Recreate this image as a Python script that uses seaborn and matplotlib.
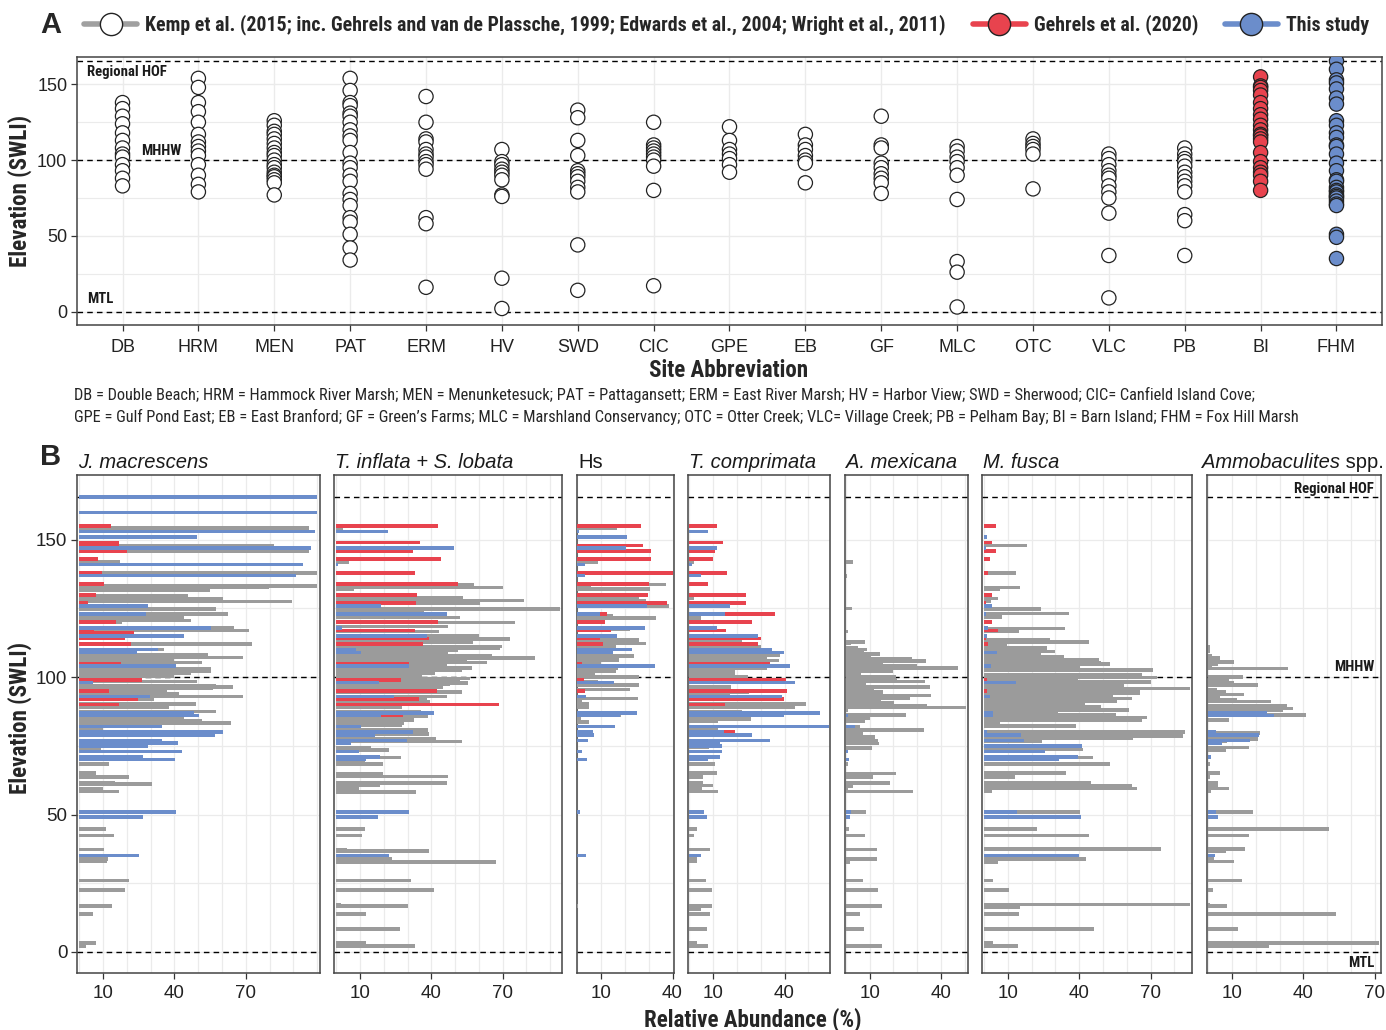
import numpy as np
import pandas as pd
import matplotlib
matplotlib.use("Agg")
import matplotlib.pyplot as plt
from matplotlib.lines import Line2D
from matplotlib.ticker import MultipleLocator, FixedLocator
from matplotlib import font_manager
import seaborn as sns

# ---------------- Panel A data (elevation, SWLI) ----------------
sites = ["DB", "HRM", "MEN", "PAT", "ERM", "HV", "SWD", "CIC", "GPE", "EB",
         "GF", "MLC", "OTC", "VLC", "PB", "BI", "FHM"]
elev_DB = [138, 134, 129, 124, 118, 113, 108, 104, 102, 97, 93, 88, 83]
elev_HRM = [154, 148, 138, 132, 125, 117, 112, 109, 106, 103, 97, 90, 84, 79]
elev_MEN = [126, 123, 119, 117, 114, 111, 108, 105, 103, 100, 97, 95, 92, 90, 89, 87, 85, 77]
elev_PAT = [154, 146, 138, 136, 131, 129, 125, 120, 116, 113, 105, 98, 95, 90, 86, 78, 74, 70,
            62, 59, 51, 42, 34]
elev_ERM = [142, 125, 114, 112, 107, 104, 102, 99, 97, 94, 62, 58, 16]
elev_HV = [107, 99, 97, 94, 92, 90, 87, 77, 76, 22, 2]
elev_SWD = [133, 128, 113, 103, 93, 91, 89, 86, 82, 79, 44, 14]
elev_CIC = [125, 110, 108, 106, 104, 102, 100, 96, 80, 17]
elev_GPE = [122, 113, 107, 104, 101, 97, 92]
elev_EB = [117, 110, 107, 103, 100, 98, 85]
elev_GF = [129, 110, 108, 98, 95, 91, 88, 85, 78]
elev_MLC = [109, 106, 102, 99, 95, 90, 74, 33, 26, 3]
elev_OTC = [114, 111, 109, 107, 104, 81]
elev_VLC = [104, 101, 97, 93, 90, 88, 83, 79, 75, 65, 37, 9]
elev_PB = [108, 104, 101, 99, 96, 92, 89, 86, 83, 79, 64, 60, 37]

# Gehrels et al. (2020) -> Barn Island samples; This study -> Fox Hill Marsh samples
red_elev = [155, 149, 148, 146, 143, 138, 134, 130, 127, 123, 120, 117, 116, 114, 112, 105,
            99, 95, 92, 90, 86, 80]
blue_elev = [165.5, 160, 153, 151, 147, 141, 137, 126, 123, 118, 115, 110, 109, 104, 98, 93,
             87, 86, 82, 80, 79, 77, 76, 75, 73, 71, 70, 51, 49, 35]

# ---------------- Panel B data (relative abundance, %) ----------------
taxa_titles = ["J. macrescens", "T. inflata + S. lobata", "Hs", "T. comprimata",
               "A. mexicana", "M. fusca", "Ammobaculites spp."]

jmac_red = [13.3, 16.5, 16.5, 19.9, 8.0, 9.5, 10.5, 7.2, 3.8, 9.6, 15.4, 6.0, 23.0, 19.2, 21.6,
            17.5, 26.4, 12.3, 24.6, 16.5, 0, 0]
tinf_red = [42.7, 35.2, 0, 32.2, 44.1, 33.1, 51.3, 34.1, 33.5, 36.2, 42.6, 33.1, 0, 39.0, 36.6,
            30.6, 27.1, 42.3, 35.0, 68.3, 28.2, 25.6]
hs_red = [26.9, 0, 27.7, 31.1, 31.1, 40.0, 30.3, 29.7, 37.6, 12.5, 11.4, 13.9, 0, 9.6, 10.8,
          2.0, 2.7, 3.0, 0, 0, 0, 0]
tcomp_red = [11.8, 14.2, 0, 10.9, 9.8, 15.7, 7.7, 23.8, 23.7, 35.8, 26.4, 15.4, 0, 30.2, 29.0,
             34.0, 40.7, 41.2, 39.7, 15.0, 30.9, 19.2]
amex_red = [0, 0, 0, 0, 0, 0, 0, 0, 0, 0, 0, 0, 0, 0, 0, 0, 0, 0, 0, 0, 0, 0]
mfus_red = [4.9, 3.2, 0, 4.9, 2.4, 1.8, 0, 3.1, 0.7, 0, 3.2, 6.0, 0, 0.7, 1.8, 0, 1.4, 1.0,
            0, 0, 0, 0]
ammo_red = [0, 0, 0, 0, 0, 0, 0, 0, 0, 0, 0, 0, 0, 0, 0, 0, 0, 0, 0, 0, 0, 0]

jmac_blue = [100, 100, 99, 49.6, 97.3, 94.2, 91, 28.8, 28, 55.5, 43.8, 33, 24.4, 40.8, 5.8, 29.8,
             48.2, 50.4, 34.9, 60.2, 57, 34.9, 41.5, 28.8, 43.2, 26.6, 40.1, 40.5, 26.7, 24.9]
tinf_blue = [0, 0, 21.6, 0, 49.4, 0.8, 0, 18.8, 46.7, 2.5, 38, 8.2, 10.3, 30.4, 18.1, 24.3,
             41.2, 18.8, 10.3, 32.2, 16.3, 29.7, 6.4, 0, 9.6, 18.4, 12.4, 30.4, 17.7, 22]
hs_blue = [0, 0, 0.8, 21, 20.6, 3, 3, 29.3, 9.4, 28.2, 16.8, 23, 15, 32.5, 15.4, 3.5, 25, 18,
           15.6, 6.5, 6.8, 4.6, 0, 0, 2, 0, 3.9, 1, 0, 3.8]
tcomp_blue = [0, 0, 7.7, 0, 11.6, 1.1, 4.9, 17, 15, 11.8, 29, 34.8, 39.6, 42.1, 44.2, 38.8,
              54.8, 39.6, 58.6, 14.7, 26.2, 33.7, 13, 13.9, 13.6, 12.9, 8, 6.2, 7.2, 4.8]
amex_blue = [0, 0, 0, 0, 0, 0, 0, 0, 0, 0, 0, 0, 0, 0, 0, 0, 0, 0.8, 3.7, 0, 0, 0, 0, 0, 0.9,
             0, 1.5, 2.0, 1.8, 0]
mfus_blue = [0, 0, 0, 1.0, 0.7, 0, 0, 3.1, 0.7, 1.8, 1.4, 0, 5.6, 2.8, 13.4, 2.5, 3.8, 3.9, 0,
             1.4, 15.4, 16.6, 0, 41, 25.4, 39.6, 31.3, 13.8, 40.6, 39.9]
ammo_blue = [0, 0, 0, 0, 0, 0, 0, 0, 0, 0, 0, 0, 0, 0, 0, 0, 24.8, 27.7, 0, 3.3, 21.2, 17.6, 5.7,
             0, 0, 1.1, 0, 3.3, 4.0, 2.9]

jmac_grey_elev = [154.4, 147.8, 145.8, 142, 138, 137.7, 133.2, 132.8, 131.8, 129.6, 128.6, 127.5,
                  124.9, 123, 122, 121.3, 120.7, 120, 117.8, 117, 115, 112, 110, 108.1, 107.1,
                  106, 105.3, 103, 102, 101.3, 100.5, 98.5, 97, 96.4, 95.8, 94.6, 94, 93, 92.1,
                  90.3, 88.9, 87.5, 85.1, 84.1, 83.4, 81, 79.2, 74.2, 68.4, 65.1, 63.6, 61.5,
                  61.2, 59.5, 58.4, 51, 44.7, 42.3, 37.3, 33.8, 32.9, 25.9, 22.5, 16.7, 13.8,
                  3.3, 2.2]
jmac_grey_pct = [96.7, 81.8, 96.5, 17, 100, 63, 100, 79.7, 55, 45.8, 60.6, 89.4, 57.3, 62.7, 43.8,
                 20.6, 46.9, 17.8, 65, 71.2, 40, 72.5, 35.4, 54.2, 69, 39.7, 51.6, 55.5, 55.5,
                 46.8, 40, 49.6, 57.3, 64.4, 56, 36.9, 42.1, 68.9, 31.4, 48.9, 37.9, 57.3, 43.8,
                 51.4, 63.7, 10, 57, 9, 12.4, 6.8, 21, 15, 30.6, 10, 16.5, 12, 11.2, 14.4, 10.2,
                 12, 11.6, 20.8, 19.2, 13.7, 5.9, 6.9, 2.7]

tinf_grey_elev = [154.2, 142, 137.9, 133.8, 132.7, 132, 128.9, 127.9, 127, 125.9, 124.9, 124.2,
                  123, 121.8, 119.9, 118.4, 116.6, 115.2, 113.8, 112.9, 111.1, 110.5, 109.7,
                  108.6, 107.7, 107, 106, 105.3, 104.2, 103.4, 102.5, 101.5, 100.5, 99.9, 99.5,
                  98.5, 97.8, 97.4, 96.4, 94.7, 93, 92.3, 91, 90.3, 88.9, 87.5, 85.8, 84.5, 83.4,
                  82.5, 80.7, 79.3, 77.5, 76.6, 74.4, 73.4, 70.7, 69.7, 68.4, 64.9, 63.8, 61.5,
                  60.5, 59.5, 58.1, 51, 44.7, 42.3, 37.3, 36.8, 33.7, 32.7, 25.9, 22.5, 17.3,
                  16.7, 13.8, 8.4, 3.3, 2.2]
tinf_grey_pct = [3, 5.5, 19.4, 58, 70.3, 7.3, 53.4, 79, 60.3, 12.8, 94, 37, 44, 52, 75.3, 47, 43,
                 60, 73, 57.3, 69.5, 69, 51, 47, 65.5, 83.5, 55, 63.5, 46.6, 57, 53, 41.5, 36, 20,
                 56.3, 52, 55.2, 48, 45, 53, 46.4, 38, 39.5, 32, 27.5, 35.5, 38.5, 32.5, 28.5,
                 27.8, 38.7, 38.8, 41.8, 52.7, 14.5, 22.3, 27.2, 12, 19.6, 19.6, 46.8, 46.4,
                 18.5, 9.6, 33.4, 15, 12, 11, 4.7, 39.2, 23.5, 67, 31.5, 41.2, 1.8, 30, 12.6,
                 26.9, 12.6, 33]

hs_grey_elev = [154.2, 142, 137.9, 133.8, 132.7, 132, 128.9, 127.9, 125.9, 122.3, 121.5, 120.4,
                117.3, 113.6, 112.2, 111.1, 107.7, 106.3, 105.3, 103.3, 102.3, 101.2, 100.1,
                98.5, 97.1, 95.5, 92.3, 91.6, 90.3, 88.9, 86.2, 84.8, 83.7, 16.7]
hs_grey_pct = [16.5, 8.6, 3, 37.2, 5.8, 30.7, 25.8, 29, 38.6, 15, 33.2, 4.6, 22.3, 26, 29, 16.3,
               23.8, 17.3, 10, 17, 16.3, 7.2, 25.8, 8.6, 26, 22, 25.5, 1.8, 5, 4.8, 18.2, 1.5,
               5, 0.4]

tcomp_grey_elev = [142, 128.9, 125.9, 121.5, 117, 113, 111, 109.2, 108.1, 107, 106, 104.2, 103.4,
                   102.3, 101.2, 100.1, 98.5, 96.4, 94.7, 93.5, 92, 90.3, 88.9, 87.5, 86.5, 84.8,
                   84, 82, 81.3, 79.5, 76.9, 74.4, 70, 68.4, 65.1, 63.6, 61.5, 60.5, 59.5, 58.4,
                   44.7, 42.3, 37.3, 33.8, 32.9, 25.9, 22.5, 16.7, 15.5, 13.8, 8.4, 3.3, 2.2]
tcomp_grey_pct = [2.1, 2.1, 6.6, 4.9, 14, 22, 30, 33.2, 37.9, 32.5, 37.6, 34, 32.8, 19.2, 19.2,
                  24.5, 20, 17.3, 25.2, 17, 22, 49.2, 44.6, 22, 17, 26, 11.9, 42.4, 11.9, 18,
                  25.2, 8.3, 7.7, 10.8, 11.6, 5.9, 5.6, 9.8, 5.5, 12.2, 3, 2, 8.7, 3, 3, 7, 9.5,
                  9.3, 4.8, 8.8, 7.4, 3, 8]

amex_grey_elev = [142, 136.8, 125, 116.6, 112.9, 112.2, 110.8, 110, 109.2, 108.4, 107.4, 106.7,
                  105.9, 104.7, 104, 103.3, 102.3, 101, 100.1, 99.2, 98.5, 97.4, 96.4, 95.5,
                  94.7, 93.3, 92.3, 91.6, 90.5, 89.6, 88.9, 87.8, 86.2, 85.1, 84.1, 82.1, 80.7,
                  79.3, 78.2, 77, 75.9, 74.2, 68.4, 64.9, 63.6, 61.5, 60.4, 59.5, 58.4, 51, 44.7,
                  42.3, 37.3, 33.8, 32.7, 25.9, 22.5, 16.7, 13.8, 8.4, 2.2]
amex_grey_pct = [3, 0.5, 2.7, 0.9, 7.9, 2, 5.1, 8.9, 7.5, 14.4, 10.7, 27.7, 33.7, 15.6, 29.8, 47.3,
                 20, 6.5, 21.1, 21.4, 33.3, 8.6, 35.4, 12, 15.5, 36, 27, 14.9, 20.4, 34, 50.7, 1,
                 25.3, 10.3, 7.9, 5.8, 33, 7.2, 12.3, 13.5, 13.9, 11.1, 0.9, 21.1, 11.6, 18.6, 3,
                 0.9, 28.1, 8.6, 1.3, 7.9, 13.2, 13.2, 1.9, 7.2, 13.5, 15.3, 6, 7.5, 15.3]

mfus_grey_elev = [148, 137.9, 132.7, 132, 128.6, 127.7, 124.9, 123.2, 122, 117.7, 116.8, 113.6,
                  112.7, 111.9, 110.7, 109.3, 108.5, 107.4, 106.4, 105.3, 104.7, 103.4, 102.6,
                  101, 99.9, 99, 98.2, 97.1, 95.8, 94.8, 94, 93, 92.3, 91.4, 90.3, 89.3, 88.1,
                  87.3, 86.3, 85.3, 84.5, 83.4, 82.3, 80, 78.6, 77.9, 76.6, 74.2, 73.6, 70.7,
                  68.4, 65.1, 63.6, 61.5, 60.5, 59.5, 58.4, 51, 44.7, 42.3, 37.5, 33.8, 32.7,
                  25.9, 22.5, 17.3, 16.3, 13.8, 8.4, 3.3, 2.2]
mfus_grey_pct = [18, 13.4, 15.2, 6.6, 6, 2.8, 24, 35.6, 7.5, 34.1, 14.8, 27.7, 44.1, 9.4, 26.3,
                 29.9, 24, 33.4, 48.5, 49, 53.1, 40.1, 71.1, 66.2, 72.5, 39.4, 70, 58.9, 86.6,
                 65.5, 65.5, 54.2, 62.1, 56, 42.3, 49, 61.1, 31, 55.6, 68.3, 66.2, 6.6, 38.7,
                 84.5, 83.5, 62.7, 24.2, 37.3, 41.5, 45.8, 52.8, 34.5, 13.1, 44.8, 62, 64.4,
                 3.5, 40.4, 22.1, 43.9, 74.2, 43, 5.8, 3.9, 10.6, 86.6, 15.2, 14.5, 46.2, 3.8,
                 14.1]

ammo_grey_elev = [111, 109.5, 107.8, 107, 105.6, 104.7, 103.7, 103.2, 100.1, 98.9, 98.1, 97.1,
                  95.5, 94.7, 93.7, 92.7, 91.9, 91.2, 89.6, 88.6, 87.8, 86.2, 84.5, 80, 79.6,
                  78.9, 77.5, 76.6, 74.4, 73.4, 68.4, 65.1, 63.6, 61.5, 60.4, 59.5, 58.4, 51,
                  44.7, 42.3, 37.5, 36.8, 33.8, 32.9, 25.9, 22.5, 17.3, 16.7, 13.8, 8.4, 3.3, 2.2]
ammo_grey_pct = [0.7, 0.7, 1.6, 4.7, 10.9, 4, 1.6, 33.7, 14.5, 8.8, 11, 21, 3.7, 7.6, 14.8, 4.7,
                 11.9, 26.5, 32.9, 35.7, 31.3, 41, 8.8, 1.9, 21.7, 5, 21, 7.9, 16.9, 7.6, 0.7, 5,
                 0.7, 4, 4, 8.5, 1.1, 18.8, 50.6, 17.2, 15.5, 7.3, 2.2, 10.9, 14.2, 1.9, 0.7, 7.9,
                 53.5, 12.3, 71.9, 25.5]

# reference levels
level_names = ["MTL", "MHHW", "Regional HOF"]
level_values = [0, 100, 165.5]

legend_labels = ["Kemp et al. (2015; inc. Gehrels and van de Plassche, 1999; Edwards et al., 2004; Wright et al., 2011)",
                 "Gehrels et al. (2020)", "This study"]
caption1 = ("DB = Double Beach; HRM = Hammock River Marsh; MEN = Menunketesuck; PAT = Pattagansett; "
            "ERM = East River Marsh; HV = Harbor View; SWD = Sherwood; CIC= Canfield Island Cove;")
caption2 = ("GPE = Gulf Pond East; EB = East Branford; GF = Green\u2019s Farms; MLC = Marshland Conservancy; "
            "OTC = Otter Creek; VLC= Village Creek; PB = Pelham Bay; BI = Barn Island; FHM = Fox Hill Marsh")

# ---------------- styling ----------------
GREY_PT = "white"
RED = "#E8434E"
BLUE = "#6B8DCB"
GREY_BAR = "#9B9B9B"
GREY_LINE = "#A0A0A0"
GRID = "#EBEBEB"
SPINE = "#444444"

sns.set_theme(style="white")
avail = {f.name for f in font_manager.fontManager.ttflist}
narrow_candidates = [n for n in ["Liberation Sans Narrow", "DejaVu Sans Condensed",
                                 "Roboto Condensed", "Open Sans Condensed"] if n in avail]
NARROW = narrow_candidates[0] if narrow_candidates else "Liberation Sans"
plt.rcParams["font.family"] = ["Liberation Sans", "DejaVu Sans"]
plt.rcParams["axes.unicode_minus"] = False

W, H = 1386, 1030
fig = plt.figure(figsize=(W / 100, H / 100), dpi=100)
renderer = fig.canvas.get_renderer()


def fit_size(s, target_px, **kw):
    """font size (pt) for which string s spans target_px pixels"""
    t = fig.text(0, 0, s, fontsize=10, **kw)
    bb = t.get_window_extent(renderer=renderer)
    t.remove()
    return 10.0 * target_px / bb.width


def style_axes(ax):
    for s in ax.spines.values():
        s.set_color(SPINE)
        s.set_linewidth(1.1)
        s.set_visible(True)
    ax.set_axisbelow(True)


nb = dict(fontfamily=NARROW, fontweight="bold")
nr = dict(fontfamily=NARROW)
fs_level = fit_size("Regional HOF", 80, **nb)
fs_axis = fit_size("Site Abbreviation", 160, **nb)
fs_cap1 = fit_size(caption1, 1184, **nr)
fs_cap2 = fit_size(caption2, 1231, **nr)
fs_cap = min(fs_cap1, fs_cap2)
fs_leg = fit_size(legend_labels[1], 163, **nb)

# ================= Panel A =================
axA = fig.add_axes([77 / W, 1 - 325 / H, 1305 / W, 268 / H])
kemp_lists = [elev_DB, elev_HRM, elev_MEN, elev_PAT, elev_ERM, elev_HV, elev_SWD, elev_CIC,
              elev_GPE, elev_EB, elev_GF, elev_MLC, elev_OTC, elev_VLC, elev_PB]
rows = []
for s, vals in zip(sites[:15], kemp_lists):
    for v in vals:
        rows.append((s, v, "Kemp"))
for v in red_elev:
    rows.append(("BI", v, "Gehrels"))
for v in blue_elev:
    rows.append(("FHM", v, "This"))
dfA = pd.DataFrame(rows, columns=["site", "elev", "source"])

for lv in level_values:
    axA.axhline(lv, color="black", lw=1.0, ls=(0, (4, 3)), zorder=2)
sns.scatterplot(data=dfA, x="site", y="elev", hue="source",
                palette={"Kemp": GREY_PT, "Gehrels": RED, "This": BLUE},
                s=105, edgecolor="#222222", linewidth=0.9, legend=False, ax=axA, zorder=4)
axA.set_xlim(-0.6, 16.6)
axA.set_ylim(-8.9, 168.1)
axA.yaxis.set_major_locator(FixedLocator([0, 50, 100, 150]))
axA.yaxis.set_minor_locator(FixedLocator([25, 75, 125]))
axA.grid(which="major", color=GRID, lw=1.0)
axA.grid(which="minor", axis="y", color=GRID, lw=0.8)
axA.tick_params(axis="both", which="major", direction="out", length=4, width=0.9,
                color="#333333", labelsize=13, pad=3, labelcolor="#222222",
                bottom=True, left=True)
axA.tick_params(axis="x", pad=6)
axA.tick_params(which="minor", length=0)
axA.set_xlabel("")
axA.set_ylabel("")
style_axes(axA)
txt_kw = dict(fontsize=fs_level, color="#1a1a1a", **nb)
axA.text(-0.47, 158, level_names[2], va="center", ha="left", **txt_kw)
axA.text(0.25, 106, level_names[1], va="center", ha="left", **txt_kw)
axA.text(-0.47, 8, level_names[0], va="center", ha="left", **txt_kw)

fig.text(20 / W, 1 - 191 / H, "Elevation (SWLI)", rotation=90, ha="center", va="center",
         fontsize=fs_axis, **nb)
fig.text(729 / W, 1 - 370 / H, "Site Abbreviation", ha="center", va="center",
         fontsize=fs_axis, **nb)
fig.text(74 / W, 1 - 395 / H, caption1, ha="left", va="center", fontsize=fs_cap, **nr)
fig.text(74 / W, 1 - 417 / H, caption2, ha="left", va="center", fontsize=fs_cap, **nr)
fig.text(51 / W, 1 - 25 / H, "A", ha="center", va="center", fontweight="bold", fontsize=21)
fig.text(51 / W, 1 - 457 / H, "B", ha="center", va="center", fontweight="bold", fontsize=21)

handles = [
    Line2D([0], [0], color=GREY_LINE, lw=4, marker="o", markersize=16,
           markerfacecolor="white", markeredgecolor="#222222", markeredgewidth=1.0),
    Line2D([0], [0], color=RED, lw=4, marker="o", markersize=16,
           markerfacecolor=RED, markeredgecolor="#222222", markeredgewidth=1.0),
    Line2D([0], [0], color=BLUE, lw=4, marker="o", markersize=16,
           markerfacecolor=BLUE, markeredgecolor="#222222", markeredgewidth=1.0),
]
em_px = fs_leg * 100 / 72
fig.legend(handles, legend_labels, loc="center left", bbox_to_anchor=(84 / W, 1 - 25 / H),
           ncol=3, frameon=False, handlelength=53 / em_px, handletextpad=8 / em_px,
           columnspacing=27 / em_px, borderaxespad=0, borderpad=0,
           prop={"family": NARROW, "weight": "bold", "size": fs_leg})

# ================= Panel B =================
red_sets = [jmac_red, tinf_red, hs_red, tcomp_red, amex_red, mfus_red, ammo_red]
blue_sets = [jmac_blue, tinf_blue, hs_blue, tcomp_blue, amex_blue, mfus_blue, ammo_blue]
grey_elev_sets = [jmac_grey_elev, tinf_grey_elev, hs_grey_elev, tcomp_grey_elev,
                  amex_grey_elev, mfus_grey_elev, ammo_grey_elev]
grey_pct_sets = [jmac_grey_pct, tinf_grey_pct, hs_grey_pct, tcomp_grey_pct,
                 amex_grey_pct, mfus_grey_pct, ammo_grey_pct]

maxes = [max(max(g), max(r), max(b)) for g, r, b in zip(grey_pct_sets, red_sets, blue_sets)]
spans = [1.02 * m for m in maxes]
left_px, right_px, gap_px = 77, 1381, 14.5
scale = (right_px - left_px - gap_px * 6) / sum(spans)
x_px = left_px
bar_h = 1.3
axes_B = []
for k in range(7):
    w_px = spans[k] * scale
    ax = fig.add_axes([x_px / W, 1 - 973 / H, w_px / W, 498 / H])
    x_px += w_px + gap_px
    axes_B.append(ax)
    for lv in level_values:
        ax.axhline(lv, color="black", lw=1.0, ls=(0, (4, 3)), zorder=2)
    ge = np.array(grey_elev_sets[k]); gp = np.array(grey_pct_sets[k])
    re = np.array(red_elev); rp = np.array(red_sets[k])
    be = np.array(blue_elev); bp = np.array(blue_sets[k])
    ax.barh(ge[gp > 0], gp[gp > 0], height=bar_h, color=GREY_BAR, lw=0, zorder=3)
    ax.barh(re[rp > 0], rp[rp > 0], height=bar_h, color=RED, lw=0, zorder=4)
    ax.barh(be[bp > 0], bp[bp > 0], height=bar_h, color=BLUE, lw=0, zorder=5)
    m = maxes[k]
    ax.set_xlim(-0.01 * m, 1.01 * m)
    ax.set_ylim(-7.7, 173.6)
    ax.xaxis.set_major_locator(FixedLocator([t for t in (10, 40, 70) if t <= 1.01 * m]))
    ax.xaxis.set_minor_locator(MultipleLocator(10))
    ax.yaxis.set_major_locator(FixedLocator([0, 50, 100, 150]))
    ax.yaxis.set_minor_locator(FixedLocator([25, 75, 125]))
    ax.grid(which="both", color=GRID, lw=0.9)
    ax.tick_params(axis="x", which="major", direction="out", length=4, width=0.9,
                   color="#333333", labelsize=13.5, pad=5, labelcolor="#222222", bottom=True)
    ax.tick_params(which="minor", length=0)
    if k == 0:
        ax.tick_params(axis="y", which="major", direction="out", length=4, width=0.9,
                       color="#333333", labelsize=13.5, pad=3, labelcolor="#222222", left=True)
    else:
        ax.tick_params(axis="y", which="both", left=False, labelleft=False)
    style_axes(ax)

    title_kw = dict(fontsize=14.5, color="#1a1a1a", va="bottom")
    if k == 2:
        ax.annotate(taxa_titles[k], xy=(0, 1), xycoords="axes fraction", xytext=(1, 2),
                    textcoords="offset points", ha="left", **title_kw)
    elif k == 6:
        t2 = ax.annotate(" spp.", xy=(1, 1), xycoords="axes fraction", xytext=(2, 2),
                         textcoords="offset points", ha="right", **title_kw)
        ax.annotate("Ammobaculites", xy=(0, 0), xycoords=t2, ha="right", style="italic",
                    **title_kw)
    else:
        ax.annotate(taxa_titles[k], xy=(0, 1), xycoords="axes fraction", xytext=(1, 2),
                    textcoords="offset points", ha="left", style="italic", **title_kw)

axL = axes_B[-1]
axL.annotate(level_names[2], xy=(1, 168.4), xycoords=("axes fraction", "data"),
             xytext=(-5, 0), textcoords="offset points", ha="right", va="center", **txt_kw)
axL.annotate(level_names[1], xy=(1, 103.8), xycoords=("axes fraction", "data"),
             xytext=(-5, 0), textcoords="offset points", ha="right", va="center", **txt_kw)
axL.annotate(level_names[0], xy=(1, -4), xycoords=("axes fraction", "data"),
             xytext=(-5, 0), textcoords="offset points", ha="right", va="center", **txt_kw)

fig.text(20 / W, 1 - 718 / H, "Elevation (SWLI)", rotation=90, ha="center", va="center",
         fontsize=fs_axis, **nb)
fig.text(753 / W, 1 - 1020 / H, "Relative Abundance (%)", ha="center", va="center",
         fontsize=fs_axis, **nb)

fig.savefig("out.png", dpi=100)
